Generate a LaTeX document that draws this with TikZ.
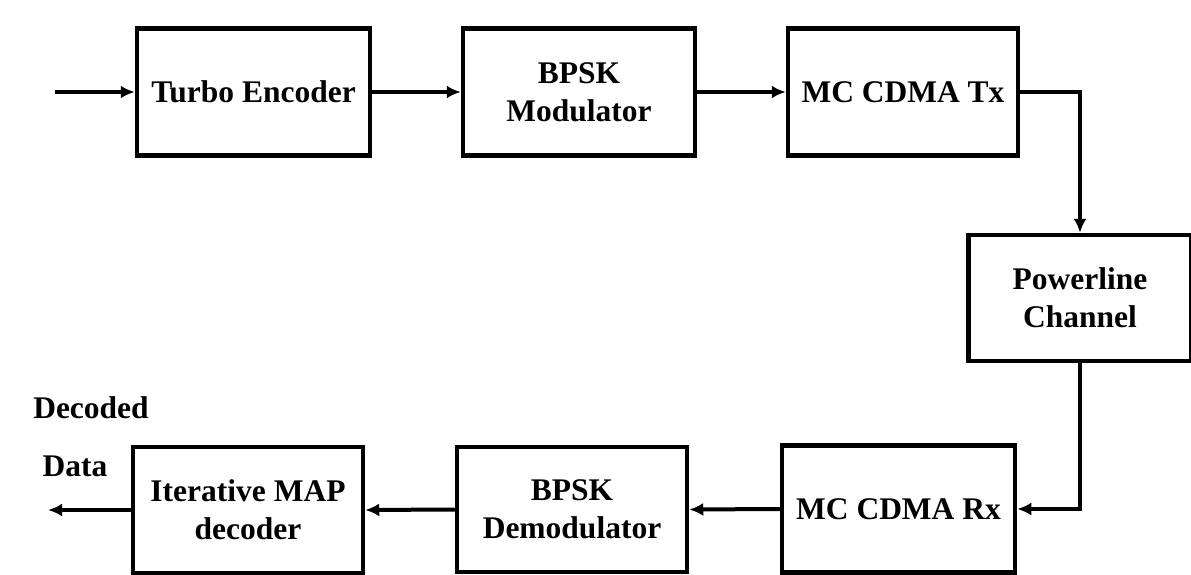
\documentclass[tikz,border=0pt]{standalone}
\usepackage{fontspec}
\setmainfont{Liberation Serif}
\usetikzlibrary{arrows.meta}
\begin{document}
\begin{tikzpicture}[x=1pt,y=-1pt,
  blk/.style={draw=black, line width=4.5pt, minimum width=#1, minimum height=127pt, inner sep=0pt, align=center,
    font=\fontsize{31.5}{38}\selectfont\bfseries},
  blk/.default=232pt,
  arr/.style={line width=4pt, -{Latex[length=14pt,width=13pt]}},
  lbl/.style={font=\fontsize{31.5}{34}\selectfont\bfseries, inner sep=0pt}]
\useasboundingbox (0,0) rectangle (1191,575);
\node[blk=233pt] (te) at (253.5,92) {Turbo Encoder};
\node[blk] (bm) at (579,92) {BPSK\\Modulator};
\node[blk=230pt] (tx) at (903,92) {MC CDMA Tx};
\node[blk=223pt, minimum height=126pt] (pc) at (1080,298) {Powerline\\Channel};
\node[blk=233pt] (rx) at (898.5,509) {MC CDMA Rx};
\node[blk=230pt, minimum height=125pt] (bd) at (572,509.5) {BPSK\\Demodulator};
\node[blk=230pt, minimum height=126pt] (map) at (248,510) {Iterative MAP\\decoder};
\node[lbl] (dec) at (91,408) {Decoded};
\node[lbl] (dat) at (75,466) {Data};
\coordinate (in) at (55,92);
\coordinate (out) at (48,510);
\draw[arr] (in) -- (te.west);
\draw[arr] (te.east) -- (bm.west);
\draw[arr] (bm.east) -- (tx.west);
\draw[arr] (tx.east) -| (pc.north);
\draw[arr] (pc.south) |- (rx.east);
\draw[arr] (rx.west) -- (bd.east);
\draw[arr] (bd.west) -- (map.east);
\draw[arr] (map.west) -- (out);
\end{tikzpicture}
\end{document}
